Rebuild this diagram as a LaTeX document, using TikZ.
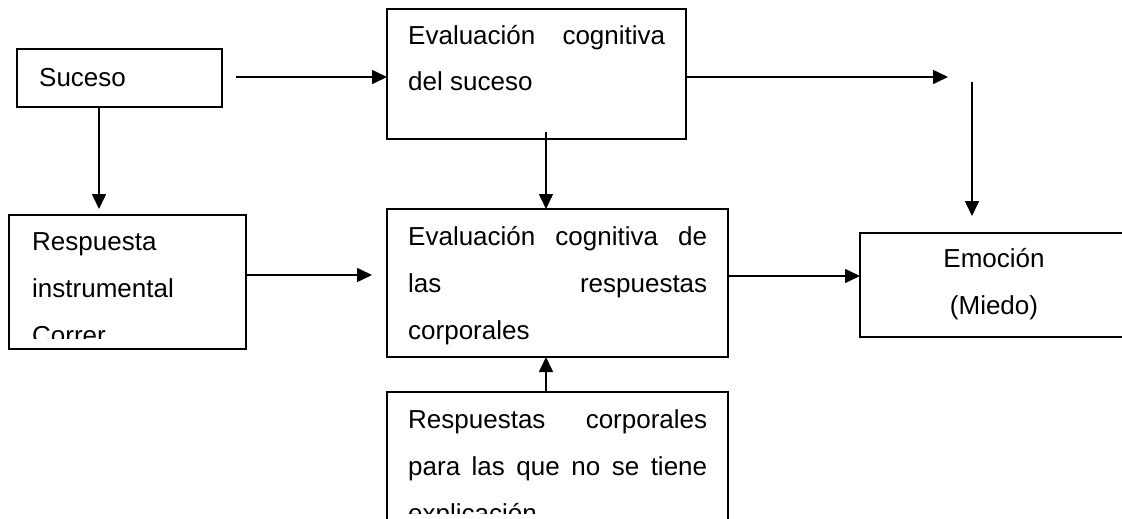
\documentclass[tikz,border=0pt]{standalone}
\usepackage{fontspec}
\setmainfont{Liberation Sans}
\usetikzlibrary{arrows.meta}
\begin{document}
\begin{tikzpicture}[x=1pt,y=-1pt,
  box/.style={draw, line width=1.6pt, rectangle, anchor=north west, inner sep=0pt, outer sep=0pt},
  txt/.style={anchor=base west, inner sep=0pt, align=left, font=\fontsize{26}{47}\selectfont},
  ctxt/.style={anchor=base, inner sep=0pt, align=center, font=\fontsize{26}{47}\selectfont},
  arr/.style={line width=1.6pt, -{Triangle[length=15pt,width=14pt]}},
  ]
\useasboundingbox (0,0) rectangle (1122,519);
\begin{scope}
\clip (0,0) rectangle (1122,519);
% boxes
\node[box, minimum width=205pt, minimum height=58pt]  (suceso) at (17,49) {};
\node[box, minimum width=237pt, minimum height=134pt] (resp)   at (9,215) {};
\node[box, minimum width=299pt, minimum height=130pt] (eval1)  at (387,9) {};
\node[box, minimum width=341pt, minimum height=148pt] (eval2)  at (387,209) {};
\node[box, minimum width=280pt, minimum height=104pt] (emo)    at (860,233) {};
\node[box, minimum width=341pt, minimum height=160pt] (corp)   at (387,392) {};
% texts (anchor = baseline of the last line)
\node[txt] (tsuceso) at (39,86) {Suceso};
\begin{scope}
\clip (0,0) rectangle (1122,338);
\node[txt] (tresp) at (32,344) {Respuesta\\instrumental\\Correr};
\end{scope}
\node[txt] (teval1) at (408,91) {\hbox to 257pt{Evaluación\hfill cognitiva}\\del suceso};
\node[txt] (teval2) at (408,339) {\hbox to 299pt{Evaluación\hfill cognitiva\hfill de}\\\hbox to 299pt{las\hfill respuestas}\\corporales};
\begin{scope}
\clip (0,0) rectangle (1122,513);
\node[txt] (tcorp) at (408,522) {\hbox to 299pt{Respuestas\hfill corporales}\\\hbox to 299pt{para\hfill las\hfill que\hfill no\hfill se\hfill tiene}\\explicación};
\end{scope}
\node[ctxt] (temo) at (994,314) {Emoción\\(Miedo)};
% free ends
\coordinate (s1) at (236,77);
\coordinate (d1) at (99,209);
\coordinate (r1) at (372,275);
\coordinate (e1) at (546,132);
\coordinate (e2) at (948,77);
\coordinate (v1) at (972,82);
\coordinate (v2) at (972,216);
\coordinate (u1) at (546,392);
% connectors
\draw[arr] (s1) -- (eval1.west |- s1);
\draw[arr] (suceso.south -| d1) -- (d1);
\draw[arr] (resp.east |- r1) -- (r1);
\draw[arr] (e1) -- (eval2.north -| e1);
\draw[arr] (eval1.east |- e2) -- (e2);
\draw[arr] (v1) -- (v2);
\draw[arr] (eval2.east |- 0,276) -- (emo.west |- 0,276);
\draw[arr] (corp.north -| u1) -- (eval2.south -| u1);
\end{scope}
\end{tikzpicture}
\end{document}
